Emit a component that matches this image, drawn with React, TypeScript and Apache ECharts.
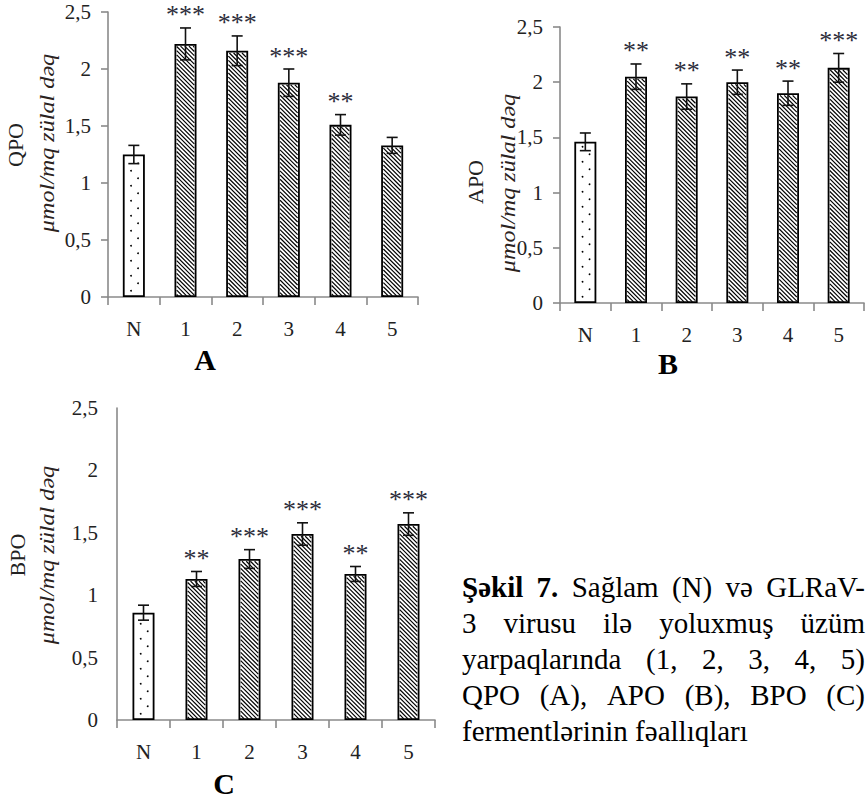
import React, { useEffect, useRef } from 'react';
import * as echarts from 'echarts';

// ---------- data ----------
const categories = ['N', '1', '2', '3', '4', '5'];
const yTickLabels = ['0', '0,5', '1', '1,5', '2', '2,5'];

const qpoValues = [1.25, 2.22, 2.16, 1.88, 1.51, 1.33];
const qpoErrors = [0.08, 0.14, 0.13, 0.12, 0.09, 0.07];
const qpoStars = ['', '***', '***', '***', '**', ''];

const apoValues = [1.46, 2.05, 1.87, 2.0, 1.9, 2.13];
const apoErrors = [0.08, 0.115, 0.115, 0.11, 0.11, 0.13];
const apoStars = ['', '**', '**', '**', '**', '***'];

const bpoValues = [0.86, 1.13, 1.29, 1.49, 1.17, 1.57];
const bpoErrors = [0.06, 0.06, 0.075, 0.09, 0.06, 0.09];
const bpoStars = ['', '**', '***', '***', '**', '***'];

const panelTitles = ['QPO', 'APO', 'BPO'];
const panelLetters = ['A', 'B', 'C'];
const unitLabel = 'μmol/mq zülal dəq';

const captionLines: { words: string[]; bold: number; justify: boolean }[] = [
  { words: ['Şəkil', '7.', 'Sağlam', '(N)', 'və', 'GLRaV-'], bold: 2, justify: true },
  { words: ['3', 'virusu', 'ilə', 'yoluxmuş', 'üzüm'], bold: 0, justify: true },
  { words: ['yarpaqlarında', '(1,', '2,', '3,', '4,', '5)'], bold: 0, justify: true },
  { words: ['QPO', '(A),', 'APO', '(B),', 'BPO', '(C)'], bold: 0, justify: true },
  { words: ['fermentlərinin', 'fəallıqları'], bold: 0, justify: false },
];

// ---------- style ----------
const SERIF = '"Liberation Serif", "Times New Roman", "DejaVu Serif", serif';
const AXIS_COLOR = '#8a8a8a';
const TEXT_COLOR = '#222';
const BAR_W = 22;

const panels = [
  {
    values: qpoValues, errors: qpoErrors, stars: qpoStars,
    grid: { left: 108, top: 12, width: 310, height: 285 }, yTicks: true,
    title: { x: 15, y: 145 }, unit: { x: 47, y: 143 }, letter: { x: 205, y: 359 },
  },
  {
    values: apoValues, errors: apoErrors, stars: apoStars,
    grid: { left: 560, top: 27, width: 304, height: 276 }, yTicks: true,
    title: { x: 475, y: 182 }, unit: { x: 508, y: 183 }, letter: { x: 668, y: 363 },
  },
  {
    values: bpoValues, errors: bpoErrors, stars: bpoStars,
    grid: { left: 117, top: 408, width: 318, height: 312 }, yTicks: false,
    title: { x: 17, y: 555 }, unit: { x: 47, y: 555 }, letter: { x: 224, y: 783 },
  },
];

function makeRenderItem(vals: number[], errs: number[], stars: string[]) {
  return (params: any, api: any) => {
    const i = params.dataIndex;
    const v = vals[i];
    const e = errs[i];
    const top = api.coord([i, v]);
    const base = api.coord([i, 0]);
    const hi = api.coord([i, v + e]);
    const lo = api.coord([i, v - e]);
    const cx = top[0];
    const half = BAR_W / 2;
    const x0 = cx - half + 2.2;
    const x1 = cx + half - 2.2;
    const y0 = top[1] + 2.2;
    const y1 = base[1] - 1.2;
    const children: any[] = [];
    if (i === 0) {
      let r = 0;
      for (let y = y1 - 5; y > y0 + 2; y -= 7.5) {
        const dx = r % 2 === 0 ? 6 : 13;
        children.push({
          type: 'circle',
          shape: { cx: x0 + dx, cy: y, r: 0.9 },
          style: { fill: '#000' },
        });
        r++;
      }
    } else {
      const step = 4.2;
      const cStart = Math.floor((y0 - x1) / step) * step;
      for (let c = cStart; c <= y1 - x0; c += step) {
        const xa = Math.max(x0, y0 - c);
        const xb = Math.min(x1, y1 - c);
        if (xb - xa > 0.3) {
          children.push({
            type: 'line',
            shape: { x1: xa, y1: xa + c, x2: xb, y2: xb + c },
            style: { stroke: '#000', lineWidth: 1.2 },
          });
        }
      }
    }
    const cap = 5.5;
    const eStyle = { stroke: '#111', lineWidth: 1.6 };
    children.push({ type: 'line', shape: { x1: cx, y1: lo[1], x2: cx, y2: hi[1] }, style: eStyle });
    children.push({ type: 'line', shape: { x1: cx - cap, y1: hi[1], x2: cx + cap, y2: hi[1] }, style: eStyle });
    children.push({ type: 'line', shape: { x1: cx - cap, y1: lo[1], x2: cx + cap, y2: lo[1] }, style: eStyle });
    if (stars[i]) {
      children.push({
        type: 'text',
        x: cx,
        y: hi[1] - 13,
        style: {
          text: stars[i], fontSize: 26, fontFamily: SERIF, fill: '#2c2c3a',
          align: 'center', verticalAlign: 'middle',
        },
      });
    }
    return { type: 'group', children };
  };
}

function buildCaption(): any[] {
  const fontSize = 29;
  const left = 462;
  const right = 865;
  const y0 = 587;
  const lineH = 36;
  const canvas = document.createElement('canvas');
  const ctx = canvas.getContext('2d') as CanvasRenderingContext2D;
  const els: any[] = [];
  captionLines.forEach((line, li) => {
    const widths = line.words.map((w, wi) => {
      ctx.font = `${wi < line.bold ? 'bold ' : ''}${fontSize}px ${SERIF}`;
      return ctx.measureText(w).width;
    });
    ctx.font = `${fontSize}px ${SERIF}`;
    const space = ctx.measureText(' ').width;
    const total = widths.reduce((a, b) => a + b, 0);
    const gap = line.justify && line.words.length > 1
      ? (right - left - total) / (line.words.length - 1)
      : space;
    let x = left;
    line.words.forEach((w, wi) => {
      els.push({
        type: 'text',
        x,
        y: y0 + li * lineH,
        style: {
          text: w, fontSize, fontFamily: SERIF, fill: '#000',
          fontWeight: wi < line.bold ? 'bold' : 'normal',
          align: 'left', verticalAlign: 'middle',
        },
      });
      x += widths[wi] + gap;
    });
  });
  return els;
}

function buildOption(): any {
  const grid = panels.map((p) => ({ ...p.grid, containLabel: false }));
  const xAxis = panels.map((p, k) => ({
    type: 'category',
    gridIndex: k,
    data: categories,
    boundaryGap: true,
    axisLine: { show: true, lineStyle: { color: AXIS_COLOR, width: 1.6 } },
    axisTick: { show: true, length: 8, alignWithLabel: false, lineStyle: { color: AXIS_COLOR, width: 1.6 } },
    axisLabel: { margin: 21, fontSize: 21, fontFamily: SERIF, color: TEXT_COLOR },
    splitLine: { show: false },
  }));
  const yAxis = panels.map((p, k) => ({
    type: 'value',
    gridIndex: k,
    min: 0,
    max: 2.5,
    interval: 0.5,
    axisLine: { show: true, lineStyle: { color: AXIS_COLOR, width: 1.6 } },
    axisTick: { show: p.yTicks, length: 7, lineStyle: { color: AXIS_COLOR, width: 1.6 } },
    axisLabel: {
      margin: p.yTicks ? 17 : 19,
      fontSize: 21,
      fontFamily: SERIF,
      color: TEXT_COLOR,
      formatter: (v: number) => yTickLabels[Math.round(v / 0.5)] ?? '',
    },
    splitLine: { show: false },
  }));
  const series: any[] = [];
  panels.forEach((p, k) => {
    series.push({
      type: 'bar',
      xAxisIndex: k,
      yAxisIndex: k,
      data: p.values,
      barWidth: BAR_W,
      silent: true,
      itemStyle: { color: '#fff', borderColor: '#000', borderWidth: 1.8 },
      z: 2,
    });
    series.push({
      type: 'custom',
      xAxisIndex: k,
      yAxisIndex: k,
      data: p.values.map((v, i) => [i, v]),
      encode: { x: 0, y: 1 },
      renderItem: makeRenderItem(p.values, p.errors, p.stars),
      clip: false,
      silent: true,
      z: 3,
    });
  });
  const graphic: any[] = [];
  panels.forEach((p, k) => {
    graphic.push({
      type: 'text',
      x: p.title.x,
      y: p.title.y,
      rotation: Math.PI / 2,
      style: {
        text: panelTitles[k], fontSize: 22, fontFamily: SERIF, fill: TEXT_COLOR,
        align: 'center', verticalAlign: 'middle',
      },
    });
    graphic.push({
      type: 'text',
      x: p.unit.x,
      y: p.unit.y,
      rotation: Math.PI / 2,
      scaleX: 1.15,
      style: {
        text: unitLabel, fontSize: 21, fontFamily: SERIF, fontStyle: 'italic', fill: '#2a2220',
        align: 'center', verticalAlign: 'middle',
      },
    });
    graphic.push({
      type: 'text',
      x: p.letter.x,
      y: p.letter.y,
      style: {
        text: panelLetters[k], fontSize: 30, fontWeight: 'bold', fontFamily: SERIF, fill: '#000',
        align: 'center', verticalAlign: 'middle',
      },
    });
  });
  graphic.push(...buildCaption());
  return {
    animation: false,
    backgroundColor: '#fff',
    grid,
    xAxis,
    yAxis,
    series,
    graphic,
  };
}

export default function App() {
  const ref = useRef<HTMLDivElement>(null);
  useEffect(() => {
    if (!ref.current) return;
    const chart = echarts.init(ref.current, undefined, { renderer: 'svg' });
    chart.setOption(buildOption());
    return () => chart.dispose();
  }, []);
  return (
    <div
      ref={ref}
      style={{ position: 'absolute', left: 0, top: 0, width: 866, height: 801 }}
    />
  );
}
